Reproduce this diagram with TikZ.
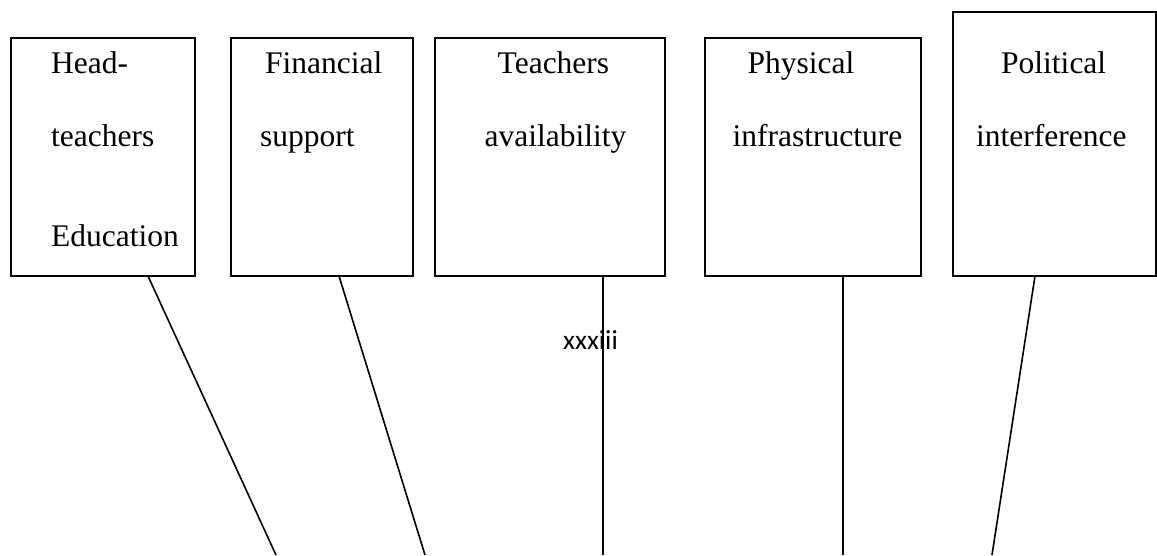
\documentclass[tikz,border=0pt]{standalone}
\usepackage{fontspec}
\setmainfont{Liberation Serif}
\newfontfamily\pagenofont{Carlito}
\begin{document}
\begin{tikzpicture}[x=1pt,y=-1pt,
  box/.style={draw,line width=2pt,inner sep=0pt,outer sep=0pt,anchor=north west},
  lbl/.style={anchor=base west,inner sep=0pt,font=\fontsize{31.5}{36}\selectfont},
  conn/.style={line width=1.6pt}]
\useasboundingbox (0,0) rectangle (1157,555);
% boxes
\node[box,minimum width=184pt,minimum height=238pt] (b1) at (11,38) {};
\node[box,minimum width=182pt,minimum height=238pt] (b2) at (231,38) {};
\node[box,minimum width=230pt,minimum height=238pt] (b3) at (435,38) {};
\node[box,minimum width=216pt,minimum height=238pt] (b4) at (705,38) {};
\node[box,minimum width=203pt,minimum height=264pt] (b5) at (953,12) {};
% labels
\node[lbl] (t1a) at (51,73.3) {Head-};
\node[lbl] (t1b) at (51,146.7) {teachers};
\node[lbl] (t1c) at (51,246.7) {Education};
\node[lbl] (t2a) at (265,73.3) {Financial};
\node[lbl] (t2b) at (260,146.7) {support};
\node[lbl] (t3a) at (497.5,73.3) {Teachers};
\node[lbl] (t3b) at (484.4,146.7) {availability};
\node[lbl] (t4a) at (747.5,73.3) {Physical};
\node[lbl] (t4b) at (732.5,146.7) {infrastructure};
\node[lbl] (t5a) at (1001,73.3) {Political};
\node[lbl] (t5b) at (976,146.7) {interference};
% page number
\node[anchor=base west,inner sep=0pt,font=\pagenofont\fontsize{27.5}{30}\selectfont] (pg) at (563,349) {xxxiii};
% free ends
\coordinate (e1) at (276,555);
\coordinate (e2) at (425,555);
\coordinate (e3) at (603,555);
\coordinate (e4) at (843,555);
\coordinate (e5) at (992,555);
% connectors
\draw[conn] (b1.south) ++(45,0) -- (e1);
\draw[conn] (b2.south) ++(17,0) -- (e2);
\draw[conn] (b3.south) ++(53,0) -- (e3);
\draw[conn] (b4.south) ++(30,0) -- (e4);
\draw[conn] (b5.south) ++(-19.5,0) -- (e5);
\end{tikzpicture}
\end{document}
